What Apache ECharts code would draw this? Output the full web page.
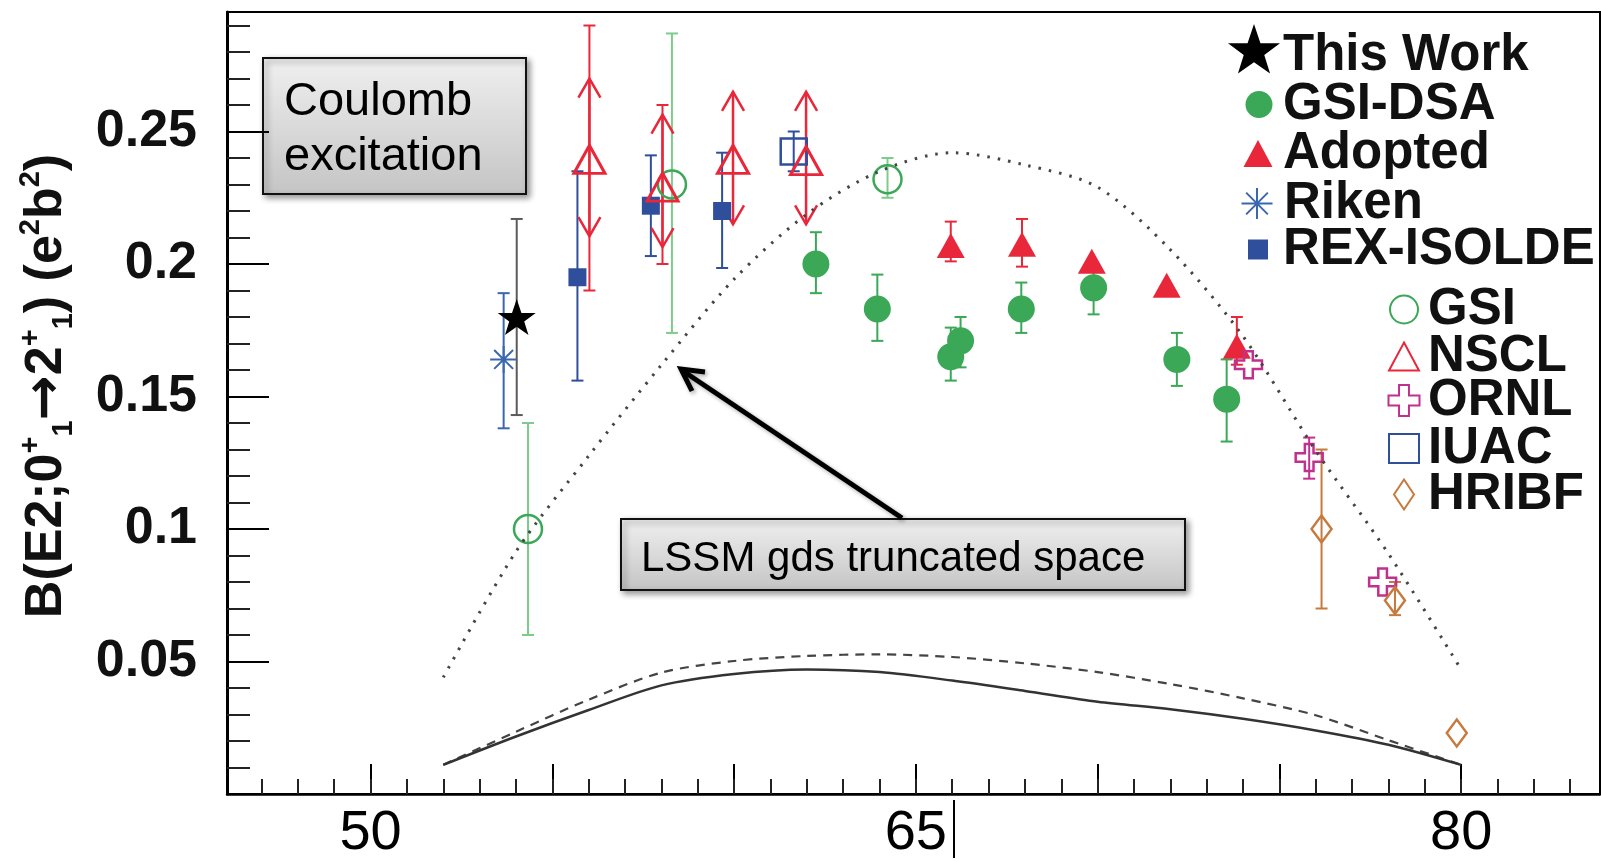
<!DOCTYPE html>
<html>
<head>
<meta charset="utf-8">
<title>B(E2) systematics</title>
<script src="https://cdn.jsdelivr.net/npm/echarts@6/dist/echarts.min.js"></script>
<style>
  html, body { margin: 0; padding: 0; background: #fff; }
  #chart { width: 1601px; height: 862px; }
</style>
</head>
<body>
<div id="chart"></div>
<script>
const FONT = '"Liberation Sans", Arial, Helvetica, sans-serif'

// axis ticks / labels
const xMajorTicks = [50, 55, 60, 65, 70, 75, 80]
const xMinorTicks = [47, 48, 49, 50, 51, 52, 53, 54, 55, 56, 57, 58, 59, 60, 61, 62, 63, 64, 65,
  66, 67, 68, 69, 70, 71, 72, 73, 74, 75, 76, 77, 78, 79, 80, 81, 82, 83]
const xLabels = [50, 65, 80]
const yLabels = [0.05, 0.1, 0.15, 0.2, 0.25]
const yMinorTicks = [0.01, 0.02, 0.03, 0.04, 0.06, 0.07, 0.08, 0.09, 0.11, 0.12, 0.13, 0.14,
  0.16, 0.17, 0.18, 0.19, 0.21, 0.22, 0.23, 0.24, 0.26, 0.27, 0.28, 0.29]

// shell model curves
const curveN = [52, 54, 56, 58, 60, 62, 64, 66, 68, 70, 72, 74, 76, 78, 80]
const lssmTruncated = [0.044, 0.0915, 0.1276, 0.1619, 0.1943, 0.2188, 0.2350, 0.2420, 0.2374, 0.2290, 0.2054, 0.1727, 0.1296, 0.0907, 0.0470]
const curveSolid = [0.011, 0.0217, 0.0317, 0.0410, 0.0453, 0.0470, 0.0460, 0.0428, 0.0389, 0.0348, 0.0320, 0.0284, 0.0240, 0.0186, 0.0110]
const curveDashed = [0.011, 0.0235, 0.0356, 0.0458, 0.0502, 0.0521, 0.0527, 0.0517, 0.0493, 0.0460, 0.0415, 0.0361, 0.0297, 0.0203, 0.0110]

// measurements [N, B(E2)] and error bars [N, low, high]
const thisWork = [[54.02, 0.180]]
const thisWorkErr = [[54.02, 0.143, 0.217]]
const gsiDsa = [[62.25, 0.200], [63.94, 0.183], [65.96, 0.165], [66.23, 0.171], [67.90, 0.183], [69.89, 0.191], [72.18, 0.164], [73.55, 0.149]]
const gsiDsaErr = [[62.25, 0.189, 0.212], [63.94, 0.171, 0.196], [65.96, 0.156, 0.176], [66.23, 0.161, 0.180], [67.90, 0.174, 0.193], [69.89, 0.181, 0.200], [72.18, 0.154, 0.174], [73.55, 0.133, 0.164]]
const adopted = [[65.96, 0.207], [67.92, 0.2075], [69.84, 0.201], [71.90, 0.192], [73.83, 0.169]]
const adoptedErr = [[65.96, 0.201, 0.216], [67.92, 0.199, 0.217], [73.83, 0.162, 0.180]]
const riken = [[53.66, 0.164]]
const rikenErr = [[53.66, 0.138, 0.189]]
const rexIsolde = [[55.69, 0.195], [57.71, 0.222], [59.67, 0.220]]
const rexIsoldeErr = [[55.69, 0.156, 0.235], [57.71, 0.203, 0.241], [59.67, 0.1985, 0.242]]
const gsi = [[54.33, 0.100], [58.29, 0.230], [64.22, 0.232]]
const gsiErr = [[54.33, 0.060, 0.140], [58.29, 0.174, 0.287], [64.22, 0.225, 0.240]]
const nscl = [[56.02, 0.2395], [58.03, 0.229], [59.97, 0.2395], [61.98, 0.239]]
const nsclErr = [[56.02, 0.190, 0.290], [58.03, 0.200, 0.260]]
const nsclArrows = [[56.02, 0.2105, 0.270], [58.03, 0.2064, 0.2564], [59.97, 0.215, 0.265], [61.98, 0.215, 0.265]]
const ornl = [[74.15, 0.162], [75.82, 0.127], [77.84, 0.080]]
const ornlErr = [[75.82, 0.119, 0.1345]]
const iuac = [[61.64, 0.2425]]
const iuacErr = [[61.64, 0.235, 0.250]]
const hribf = [[76.16, 0.100], [78.18, 0.073], [79.88, 0.023]]
const hribfErr = [[76.16, 0.070, 0.130], [78.18, 0.0675, 0.080]]

const STAR = 'path://M50,0 L61.8,35.1 L97.6,35.1 L68.8,56.8 L79.4,90.5 L50,69.9 L20.6,90.5 L31.2,56.8 L2.4,35.1 L38.2,35.1 Z'
// same star, with an empty move below it so the legend icon sits a bit above the text centre
const STAR_LEGEND = STAR + ' M50,118'
const ASTERISK = 'path://M50,0 L50,100 M0,50 L100,50 M15,15 L85,85 M15,85 L85,15'
const CROSS = 'path://M34,0 L66,0 L66,34 L100,34 L100,66 L66,66 L66,100 L34,100 L34,66 L0,66 L0,34 L34,34 Z'

const GREEN = '#3aa856'
const RED = '#e8283a'
const BLUE = '#2f4e9c'
const MAGENTA = '#c0308f'
const ORANGE = '#c77a3e'
const CLEAR = 'rgba(255,255,255,0)'

function renderErr(params, api) {
  const x = api.value(0)
  const lo = api.coord([x, api.value(1)])
  const hi = api.coord([x, api.value(2)])
  const style = { stroke: api.visual('color'), lineWidth: 2 }
  return {
    type: 'group',
    children: [
      { type: 'line', shape: { x1: lo[0], y1: lo[1], x2: hi[0], y2: hi[1] }, style },
      { type: 'line', shape: { x1: lo[0] - 6, y1: lo[1], x2: lo[0] + 6, y2: lo[1] }, style },
      { type: 'line', shape: { x1: hi[0] - 6, y1: hi[1], x2: hi[0] + 6, y2: hi[1] }, style }
    ]
  }
}

// bars with arrow heads (NSCL)
function renderArrows(params, api) {
  const x = api.value(0)
  const lo = api.coord([x, api.value(1)])
  const hi = api.coord([x, api.value(2)])
  const style = { stroke: api.visual('color'), lineWidth: 2.5, fill: null }
  return {
    type: 'group',
    children: [
      { type: 'line', shape: { x1: lo[0], y1: lo[1], x2: hi[0], y2: hi[1] }, style },
      { type: 'polyline', shape: { points: [[hi[0] - 11, hi[1] + 19], [hi[0], hi[1]], [hi[0] + 11, hi[1] + 19]] }, style },
      { type: 'polyline', shape: { points: [[lo[0] - 11, lo[1] - 19], [lo[0], lo[1]], [lo[0] + 11, lo[1] - 19]] }, style }
    ]
  }
}

function errSeries(data, color) {
  return {
    type: 'custom', data, renderItem: renderErr, silent: true,
    encode: { x: 0, y: [1, 2] },
    itemStyle: { color }
  }
}

function legendItem(item, cx, cy, w, h, textX) {
  return {
    data: [item], orient: 'vertical', left: cx - w / 2, padding: 0,
    top: cy - Math.max(h, 50) / 2,
    itemWidth: w, itemHeight: h, itemGap: 0, selectedMode: false,
    textStyle: {
      fontSize: 51, fontWeight: 'bold', fontFamily: FONT, color: '#111', lineHeight: 50,
      padding: [0, 0, 0, textX - (cx + w / 2 + 5)]
    }
  }
}

const chart = echarts.init(document.getElementById('chart'))

const option = {
  animation: false,
  backgroundColor: '#fff',
  grid: { left: 227, top: 12, width: 1373, height: 785, show: true, borderColor: '#000', borderWidth: 2 },
  xAxis: [
    {
      type: 'value', min: 46.05, max: 83.82, position: 'bottom',
      axisLine: { show: true, lineStyle: { color: '#000', width: 2.5 } },
      axisTick: { show: true, inside: true, length: 30, customValues: xMajorTicks, lineStyle: { color: '#000', width: 2 } },
      axisLabel: { customValues: xLabels, fontSize: 56, fontFamily: FONT, color: '#000', margin: 12 },
      splitLine: { show: false }
    },
    {
      type: 'value', min: 46.05, max: 83.82, position: 'bottom',
      axisLine: { show: false },
      axisTick: { show: true, inside: true, length: 15, customValues: xMinorTicks, lineStyle: { color: '#222', width: 2 } },
      axisLabel: { show: false },
      splitLine: { show: false }
    }
  ],
  yAxis: [
    {
      type: 'value', min: 0, max: 0.2951, position: 'left',
      axisLine: { show: true, lineStyle: { color: '#000', width: 3 } },
      axisTick: { show: true, inside: true, length: 42, customValues: yLabels, lineStyle: { color: '#000', width: 2 } },
      axisLabel: { customValues: yLabels, fontSize: 52, fontWeight: 'bold', fontFamily: FONT, color: '#111', margin: 30 },
      splitLine: { show: false }
    },
    {
      type: 'value', min: 0, max: 0.2951, position: 'left',
      axisLine: { show: false },
      axisTick: { show: true, inside: true, length: 23, customValues: yMinorTicks, lineStyle: { color: '#222', width: 2 } },
      axisLabel: { show: false },
      splitLine: { show: false }
    }
  ],
  legend: [
    legendItem({ name: 'This Work', icon: STAR_LEGEND }, 1254, 57, 52, 66, 1283),
    legendItem('GSI-DSA', 1259, 104, 27, 27, 1283),
    legendItem('Adopted', 1258, 153, 29, 27, 1283),
    legendItem('Riken', 1256, 203, 31, 31, 1283),
    legendItem('REX-ISOLDE', 1258, 249, 20, 20, 1283),
    legendItem('GSI', 1403, 309, 28, 28, 1427),
    legendItem('NSCL', 1403, 356, 30, 28, 1427),
    legendItem('ORNL', 1403, 400, 31, 31, 1427),
    legendItem('IUAC', 1403, 448, 30, 29, 1427),
    legendItem('HRIBF', 1403, 494, 20, 30, 1427)
  ],
  series: [
    {
      type: 'line', data: curveN.map((n, i) => [n, lssmTruncated[i]]), symbol: 'none', smooth: 0.3, silent: true,
      lineStyle: { color: '#444', width: 3, type: [2.5, 8] }
    },
    {
      type: 'line', data: curveN.map((n, i) => [n, curveDashed[i]]), symbol: 'none', smooth: 0.3, silent: true,
      lineStyle: { color: '#444', width: 2.2, type: [9, 7] }
    },
    {
      type: 'line', data: curveN.map((n, i) => [n, curveSolid[i]]), symbol: 'none', smooth: 0.3, silent: true,
      lineStyle: { color: '#333', width: 2.5 }
    },
    errSeries(thisWorkErr, '#5a5a5a'),
    errSeries(rikenErr, '#3a68ad'),
    errSeries(gsiErr, '#7ccc8c'),
    errSeries(rexIsoldeErr, BLUE),
    errSeries(nsclErr, RED),
    {
      type: 'custom', data: nsclArrows, renderItem: renderArrows, silent: true,
      encode: { x: 0, y: [1, 2] }, itemStyle: { color: RED }
    },
    errSeries(iuacErr, BLUE),
    errSeries(gsiDsaErr, GREEN),
    errSeries(adoptedErr, RED),
    errSeries(ornlErr, MAGENTA),
    errSeries(hribfErr, ORANGE),
    {
      name: 'GSI', type: 'scatter', data: gsi, symbol: 'circle', symbolSize: 28,
      itemStyle: { color: CLEAR, borderColor: GREEN, borderWidth: 2.5, opacity: 1 }
    },
    {
      name: 'REX-ISOLDE', type: 'scatter', data: rexIsolde, symbol: 'rect', symbolSize: 18,
      itemStyle: { color: BLUE, opacity: 1 }
    },
    {
      name: 'IUAC', type: 'scatter', data: iuac, symbol: 'rect', symbolSize: 26,
      itemStyle: { color: CLEAR, borderColor: BLUE, borderWidth: 2.5, opacity: 1 }
    },
    {
      name: 'NSCL', type: 'scatter', data: nscl, symbol: 'triangle', symbolSize: [31, 28],
      itemStyle: { color: CLEAR, borderColor: RED, borderWidth: 3, opacity: 1 }
    },
    {
      name: 'GSI-DSA', type: 'scatter', data: gsiDsa, symbol: 'circle', symbolSize: 27,
      itemStyle: { color: GREEN, opacity: 1 }
    },
    {
      name: 'Adopted', type: 'scatter', data: adopted, symbol: 'triangle', symbolSize: [28, 25],
      itemStyle: { color: RED, opacity: 1 }
    },
    {
      name: 'ORNL', type: 'scatter', data: ornl, symbol: CROSS, symbolSize: 27,
      itemStyle: { color: CLEAR, borderColor: MAGENTA, borderWidth: 2.5, opacity: 1 }
    },
    {
      name: 'HRIBF', type: 'scatter', data: hribf, symbol: 'diamond', symbolSize: [20, 27],
      itemStyle: { color: CLEAR, borderColor: ORANGE, borderWidth: 2.5, opacity: 1 }
    },
    {
      name: 'Riken', type: 'scatter', data: riken, symbol: ASTERISK, symbolSize: 27,
      itemStyle: { color: CLEAR, borderColor: '#3a68ad', borderWidth: 2, opacity: 1 }
    },
    {
      name: 'This Work', type: 'scatter', data: thisWork, symbol: STAR, symbolSize: 38, symbolKeepAspect: true,
      itemStyle: { color: '#000', opacity: 1 }
    }
  ],
  graphic: [
    // y axis title
    {
      type: 'text', x: 47, y: 386, rotation: Math.PI / 2, silent: true,
      style: {
        text: '{b|B(E2;0}{sp|+}{sb|1}{ar|→}{b|2}{sp|+}{sb|1}{b|) (e}{sp|2}{b|b}{sp|2}{b|)}',
        align: 'center', verticalAlign: 'middle',
        rich: {
          b: { fontSize: 52, fontWeight: 'bold', fontFamily: FONT, fill: '#111', lineHeight: 62 },
          ar: { fontSize: 54, fontWeight: 'bold', fontFamily: '"DejaVu Sans", sans-serif', fill: '#111', lineHeight: 62 },
          sp: { fontSize: 29, fontWeight: 'bold', fontFamily: FONT, fill: '#111', lineHeight: 33, verticalAlign: 'top' },
          sb: { fontSize: 29, fontWeight: 'bold', fontFamily: FONT, fill: '#111', lineHeight: 33, verticalAlign: 'bottom' }
        }
      }
    },
    // Coulomb excitation box
    {
      type: 'rect', silent: true,
      shape: { x: 263, y: 58, width: 263, height: 136 },
      style: {
        fill: { type: 'linear', x: 0, y: 0, x2: 0, y2: 1, colorStops: [{ offset: 0, color: '#f0f0f0' }, { offset: 1, color: '#c4c4c4' }] },
        stroke: '#111', lineWidth: 2,
        shadowBlur: 6, shadowOffsetX: 3, shadowOffsetY: 3, shadowColor: 'rgba(0,0,0,0.4)'
      }
    },
    {
      type: 'text', x: 284, y: 75, silent: true,
      style: { text: 'Coulomb\nexcitation', fontSize: 47, fontFamily: FONT, fill: '#000', lineHeight: 55 }
    },
    // LSSM box
    {
      type: 'rect', silent: true,
      shape: { x: 621, y: 519, width: 564, height: 71 },
      style: {
        fill: { type: 'linear', x: 0, y: 0, x2: 0, y2: 1, colorStops: [{ offset: 0, color: '#f0f0f0' }, { offset: 1, color: '#c4c4c4' }] },
        stroke: '#111', lineWidth: 2,
        shadowBlur: 6, shadowOffsetX: 3, shadowOffsetY: 3, shadowColor: 'rgba(0,0,0,0.4)'
      }
    },
    {
      type: 'text', x: 641, y: 559, silent: true,
      style: { text: 'LSSM gds truncated space', fontSize: 42, fontFamily: FONT, fill: '#000', verticalAlign: 'middle' }
    },
    // arrow from box to curve
    {
      type: 'line', silent: true,
      shape: { x1: 902, y1: 518, x2: 683, y2: 371 },
      style: { stroke: '#000', lineWidth: 5, shadowBlur: 4, shadowOffsetX: 2, shadowOffsetY: 2, shadowColor: 'rgba(0,0,0,0.35)' }
    },
    {
      type: 'polyline', silent: true,
      shape: { points: [[705, 372], [681, 369], [692, 391]] },
      style: { stroke: '#000', lineWidth: 5, fill: null, shadowBlur: 4, shadowOffsetX: 2, shadowOffsetY: 2, shadowColor: 'rgba(0,0,0,0.35)' }
    },
    // stray bar next to the 65 label
    {
      type: 'line', silent: true,
      shape: { x1: 954, y1: 800, x2: 954, y2: 858 },
      style: { stroke: '#000', lineWidth: 2 }
    }
  ]
}

chart.setOption(option)
</script>
</body>
</html>
